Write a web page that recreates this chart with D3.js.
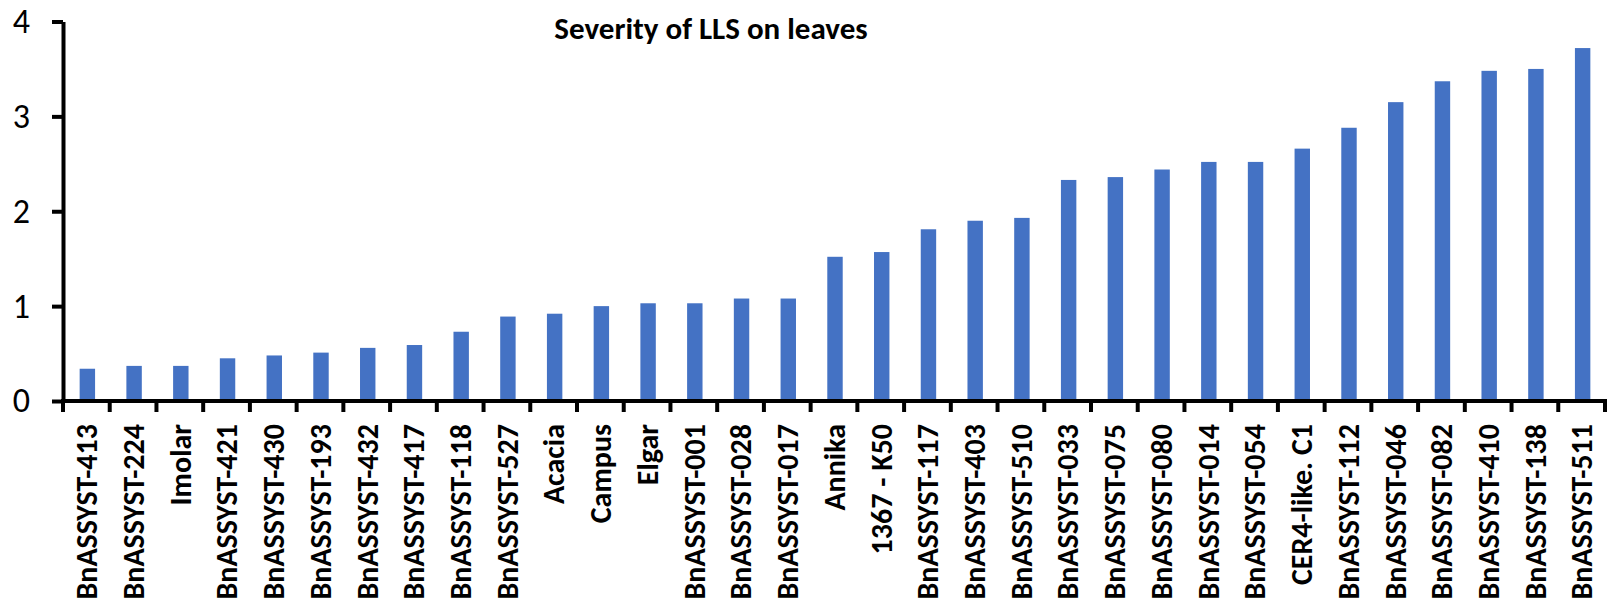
<!DOCTYPE html>
<html>
<head>
<meta charset="utf-8">
<script src="https://cdn.jsdelivr.net/npm/d3@7"></script>
<style>
  html, body { margin: 0; padding: 0; background: #ffffff; }
  svg { display: block; }
  .lbl { font-family: Carlito, Calibri, Lato, "Open Sans", sans-serif; }
</style>
</head>
<body>
<svg id="chart" width="1610" height="610"></svg>
<script>
// Cultivars / lines, in plotted order
const categories = [
  "BnASSYST-413", "BnASSYST-224", "Imolar", "BnASSYST-421", "BnASSYST-430",
  "BnASSYST-193", "BnASSYST-432", "BnASSYST-417", "BnASSYST-118", "BnASSYST-527",
  "Acacia", "Campus", "Elgar", "BnASSYST-001", "BnASSYST-028", "BnASSYST-017",
  "Annika", "1367 - K50", "BnASSYST-117", "BnASSYST-403", "BnASSYST-510",
  "BnASSYST-033", "BnASSYST-075", "BnASSYST-080", "BnASSYST-014", "BnASSYST-054",
  "CER4-like. C1", "BnASSYST-112", "BnASSYST-046", "BnASSYST-082", "BnASSYST-410",
  "BnASSYST-138", "BnASSYST-511"
];

// Mean LLS severity score on leaves
const severity = [
  0.34, 0.37, 0.37, 0.45, 0.48,
  0.51, 0.56, 0.59, 0.73, 0.89,
  0.92, 1.00, 1.03, 1.03, 1.08, 1.08,
  1.52, 1.57, 1.81, 1.90, 1.93,
  2.33, 2.36, 2.44, 2.52, 2.52,
  2.66, 2.88, 3.15, 3.37, 3.48,
  3.50, 3.72
];

const yTicks = [0, 1, 2, 3, 4];
const title = "Severity of LLS on leaves";

const svg = d3.select("#chart");
const plotLeft = 63, plotRight = 1605, plotTop = 21.5, plotBottom = 401;

const x = d3.scaleBand()
  .domain(categories)
  .range([plotLeft, plotRight])
  .paddingInner(0.67)
  .paddingOuter(0.335);

const y = d3.scaleLinear().domain([0, 4]).range([plotBottom, plotTop]);

// Bars
svg.append("g")
  .selectAll("rect")
  .data(categories.map((c, i) => ({ c, v: severity[i] })))
  .join("rect")
  .attr("x", d => x(d.c) + 1)
  .attr("width", x.bandwidth())
  .attr("y", d => y(d.v))
  .attr("height", d => y(0) - y(d.v))
  .attr("fill", "#4472C4");

// Y axis
const yAxis = svg.append("g")
  .attr("transform", `translate(${plotLeft},0)`)
  .call(d3.axisLeft(y).tickValues(yTicks).tickFormat(d3.format("d")).tickSize(11).tickSizeOuter(0).tickPadding(22));
yAxis.select(".domain").attr("stroke", "#000").attr("stroke-width", 4);
yAxis.selectAll(".tick line").attr("stroke", "#000").attr("stroke-width", 4);
yAxis.selectAll(".tick text")
  .attr("class", "lbl")
  .style("font-size", "34px")
  .style("font-weight", "400")
  .attr("fill", "#000");

// X axis: baseline with ticks on category boundaries
const step = x.step();
const boundaries = d3.range(categories.length + 1).map(i => plotLeft + i * step);
const xg = svg.append("g");
xg.append("line")
  .attr("x1", plotLeft - 2).attr("x2", plotRight + 2)
  .attr("y1", y(0)).attr("y2", y(0))
  .attr("stroke", "#000").attr("stroke-width", 4);
xg.selectAll("line.b")
  .data(boundaries)
  .join("line")
  .attr("class", "b")
  .attr("x1", d => d).attr("x2", d => d)
  .attr("y1", y(0)).attr("y2", y(0) + 11)
  .attr("stroke", "#000").attr("stroke-width", 4);

// Category labels, rotated
const xLabels = svg.append("g")
  .attr("transform", `translate(0,${y(0) + 23})`)
  .call(d3.axisBottom(x).tickSize(0).tickPadding(0));
xLabels.select(".domain").remove();
xLabels.selectAll(".tick text")
  .attr("class", "lbl")
  .attr("transform", "rotate(-90)")
  .attr("text-anchor", "end")
  .attr("x", 0)
  .attr("y", 0)
  .attr("dy", "0.36em")
  .style("font-size", "30px")
  .style("font-weight", "700")
  .attr("fill", "#000");

// Title
svg.append("text")
  .attr("class", "lbl")
  .attr("x", 711)
  .attr("y", 39)
  .attr("text-anchor", "middle")
  .style("font-size", "31px")
  .style("font-weight", "700")
  .attr("fill", "#000")
  .text(title);
</script>
</body>
</html>
